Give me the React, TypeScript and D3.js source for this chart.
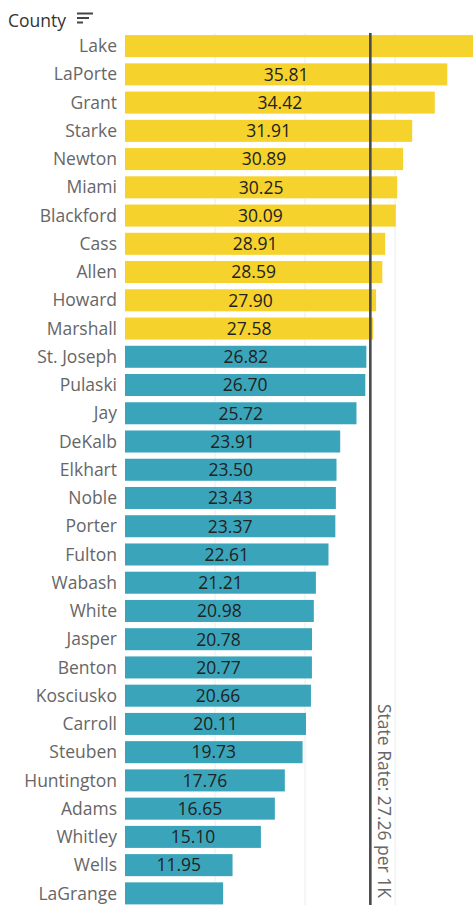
import React from "react";
import * as d3 from "d3";

const counties = ["Lake","LaPorte","Grant","Starke","Newton","Miami","Blackford","Cass","Allen","Howard","Marshall","St. Joseph","Pulaski","Jay","DeKalb","Elkhart","Noble","Porter","Fulton","Wabash","White","Jasper","Benton","Kosciusko","Carroll","Steuben","Huntington","Adams","Whitley","Wells","LaGrange"];
const rates = [38.67,35.81,34.42,31.91,30.89,30.25,30.09,28.91,28.59,27.90,27.58,26.82,26.70,25.72,23.91,23.50,23.43,23.37,22.61,21.21,20.98,20.78,20.77,20.66,20.11,19.73,17.76,16.65,15.10,11.95,10.90];
const showLabel = [false,true,true,true,true,true,true,true,true,true,true,true,true,true,true,true,true,true,true,true,true,true,true,true,true,true,true,true,true,true,false];
const stateRate = 27.26;
const gridTicks = [10, 20, 30];

const W = 474, H = 905;
const FONT = "'Open Sans', 'Noto Sans', sans-serif";

export default function App() {
  const x = d3.scaleLinear().domain([0, 10]).range([125, 215]);
  const y = d3.scaleBand<string>().domain(counties).range([32, 907.5]).paddingInner(0.22).paddingOuter(0.11);
  const bw = y.bandwidth();
  const colorFor = (v: number) => (v > stateRate ? "#F6D22C" : "#3AA5BA");
  return (
    <svg width={W} height={H} style={{ position: "fixed", left: 0, top: 0, background: "#fff" }}>
      {gridTicks.map((t) => (
        <line key={t} x1={x(t)} x2={x(t)} y1={33} y2={H} stroke="#ececec" strokeWidth={1} />
      ))}
      <text x={8} y={27} fontFamily={FONT} fontSize={17.5} fill="#333">County</text>
      <g stroke="#444" strokeWidth={2}>
        <line x1={77} x2={93} y1={13.5} y2={13.5} />
        <line x1={77} x2={89} y1={18} y2={18} />
        <line x1={77} x2={83} y1={22.5} y2={22.5} />
      </g>
      {counties.map((c, i) => {
        const v = rates[i];
        const yy = y(c)!;
        return (
          <g key={c}>
            <rect x={x(0)} y={yy} width={x(v) - x(0)} height={bw} fill={colorFor(v)} />
            <text x={117} y={yy + bw / 2} dy="0.35em" textAnchor="end" fontFamily={FONT} fontSize={17.5} fill="#666">{c}</text>
            {showLabel[i] && (
              <text x={(x(0) + x(v)) / 2} y={yy + bw / 2} dy="0.36em" textAnchor="middle" fontFamily={FONT} fontSize={17.5} fill="#222">{v.toFixed(2)}</text>
            )}
          </g>
        );
      })}
      <line x1={x(stateRate)} x2={x(stateRate)} y1={33} y2={H} stroke="#4a4a4a" strokeWidth={2.6} />
      <text transform={`translate(${x(stateRate) + 8},${898}) rotate(90)`} textAnchor="end" fontFamily={FONT} fontSize={17.5} fill="#666">{`State Rate: ${stateRate.toFixed(2)} per 1K`}</text>
    </svg>
  );
}
